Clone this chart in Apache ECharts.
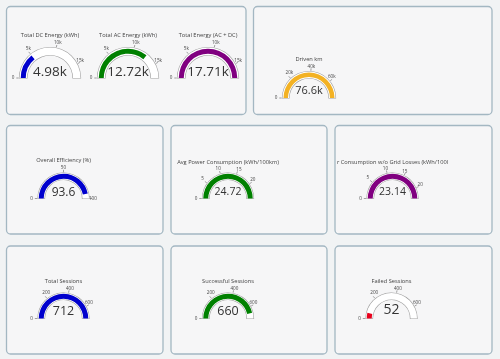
<!DOCTYPE html>
<html><head><meta charset="utf-8">
<script src="https://cdn.jsdelivr.net/npm/echarts@6/dist/echarts.min.js"></script>
<style>html,body{margin:0;padding:0;background:#f1f3f4}#c{width:500px;height:359px}</style>
</head><body><div id="c"></div>
<script>
// ---- data ----
const titles = ['Total DC Energy (kWh)', 'Total AC Energy (kWh)', 'Total Energy (AC + DC)', 'Driven km',
  'Overall Efficiency (%)', 'Avg Power Consumption (kWh/100km)', 'r Consumption w/o Grid Losses (kWh/100l',
  'Total Sessions', 'Successful Sessions', 'Failed Sessions'];
const values = [4980, 12720, 17710, 76600, 93.6, 24.72, 23.14, 712, 660, 52];
const valueLabels = ['4.98k', '12.72k', '17.71k', '76.6k', '93.6', '24.72', '23.14', '712', '660', '52'];
const axisMax = [17710, 17710, 17710, 76600, 100, 24.72, 23.14, 712, 712, 712];
const tickValues = [
  [0, 5000, 10000, 15000], [0, 5000, 10000, 15000], [0, 5000, 10000, 15000],
  [0, 20000, 40000, 60000], [0, 50, 100], [0, 5, 10, 15, 20], [0, 5, 10, 15, 20],
  [0, 200, 400, 600], [0, 200, 400, 600], [0, 200, 400, 600]];
const tickLabels = [
  ['0', '5k', '10k', '15k'], ['0', '5k', '10k', '15k'], ['0', '5k', '10k', '15k'],
  ['0', '20k', '40k', '60k'], ['0', '50', '100'], ['0', '5', '10', '15', '20'], ['0', '5', '10', '15', '20'],
  ['0', '200', '400', '600'], ['0', '200', '400', '600'], ['0', '200', '400', '600']];
const barColors = ['#0000cd', '#008000', '#800080', '#f3b224', '#0000cd', '#008000', '#800080', '#0000cd', '#008000', '#e8001c'];

// ---- layout (positions / sizes) ----
const cards = [[6.5, 6.5, 239.5, 108], [253.5, 6.5, 238.5, 108],
  [6.5, 125.5, 156.5, 108.5], [171, 125.5, 156, 108.5], [335, 125.5, 157, 108.5],
  [6.5, 246, 156.5, 108], [171, 246, 156, 108], [335, 246, 157, 108]];
const layout = [
  {cx: 50, cy: 78, r: 30.5, w: 7.5, bw: 5, vf: 13.5, vo: -6, to: -43},
  {cx: 128, cy: 78, r: 30.5, w: 7.5, bw: 5, vf: 13.5, vo: -6, to: -43},
  {cx: 208, cy: 78, r: 30.5, w: 7.5, bw: 5, vf: 13.5, vo: -6, to: -43},
  {cx: 309, cy: 98, r: 26.5, w: 6.5, bw: 4.5, vf: 11, vo: -7, to: -39},
  {cx: 63.5, cy: 198.5, r: 25.5, w: 6.5, bw: 5, vf: 12, vo: -6, to: -38},
  {cx: 228, cy: 198.5, r: 25.5, w: 6.5, bw: 5, vf: 10.5, vo: -6, to: -36.5},
  {cx: 392.5, cy: 198.5, r: 25.5, w: 6.5, bw: 5, vf: 10.5, vo: -6, to: -36},
  {cx: 63.5, cy: 318.5, r: 25.5, w: 6.5, bw: 5, vf: 12.5, vo: -7, to: -37.5},
  {cx: 228, cy: 318.5, r: 25.5, w: 6.5, bw: 5, vf: 12.5, vo: -7, to: -37.5},
  {cx: 391.5, cy: 318.5, r: 25.5, w: 6.5, bw: 5, vf: 14, vo: -8, to: -37.5}
];
const FONT = 'Open Sans';

function hidden() {
  return {
    splitLine: {show: false}, axisTick: {show: false}, axisLabel: {show: false},
    pointer: {show: false}, anchor: {show: false}, title: {show: false}, detail: {show: false}
  };
}

function gaugeSeries(i) {
  const L = layout[i];
  const center = [L.cx, L.cy];
  const ticks = tickValues[i];
  const last = ticks[ticks.length - 1];
  const pad = 0.6 / L.r * 180 / Math.PI;
  const out = [];
  // band border
  out.push(Object.assign(hidden(), {
    type: 'gauge', silent: true, z: 2, center, radius: L.r + 0.6,
    startAngle: 180 + pad, endAngle: -pad, min: 0, max: 1,
    axisLine: {show: true, lineStyle: {width: L.w + 1.2, color: [[1, '#a0a0a0']]}},
    data: [{value: 0}]
  }));
  // band fill
  out.push(Object.assign(hidden(), {
    type: 'gauge', silent: true, z: 3, center, radius: L.r,
    startAngle: 180, endAngle: 0, min: 0, max: 1,
    axisLine: {show: true, lineStyle: {width: L.w, color: [[1, '#ffffff']]}},
    data: [{value: 0}]
  }));
  // value bar + title + number
  const m = (L.w - L.bw) / 2;
  out.push(Object.assign(hidden(), {
    type: 'gauge', silent: true, z: 4, center, radius: L.r - m,
    startAngle: 180, endAngle: 0, min: 0, max: axisMax[i],
    axisLine: {show: false, lineStyle: {width: 0}},
    progress: {show: true, width: L.bw, roundCap: false, itemStyle: {color: barColors[i]}},
    title: {show: true, offsetCenter: [0, L.to], fontSize: 5.7, color: '#444', fontFamily: FONT},
    detail: {
      show: true, offsetCenter: [0, L.vo], fontSize: L.vf, lineHeight: L.vf, fontWeight: 'normal',
      color: '#333', fontFamily: FONT, padding: 0, width: 80,
      formatter: function () { return valueLabels[i]; }
    },
    data: [{value: values[i], name: titles[i]}]
  }));
  // axis ticks + labels
  out.push(Object.assign(hidden(), {
    type: 'gauge', silent: true, z: 5, center, radius: L.r + 3.2,
    startAngle: 180, endAngle: 180 - 180 * last / axisMax[i],
    min: 0, max: last, splitNumber: ticks.length - 1,
    axisLine: {show: false, lineStyle: {width: 0}},
    splitLine: {show: true, length: 2.4, distance: 0, lineStyle: {color: '#666', width: 0.6}},
    axisLabel: {
      show: true, distance: -7, fontSize: 4.6, color: '#444', fontFamily: FONT,
      formatter: function (v) {
        const k = ticks.findIndex(t => Math.abs(t - v) < 1e-6 * (last || 1));
        return k >= 0 ? tickLabels[i][k] : '';
      }
    },
    data: [{value: 0}]
  }));
  return out;
}

const series = [];
for (let i = 0; i < values.length; i++) series.push(...gaugeSeries(i));

const chart = echarts.init(document.getElementById('c'), null, {renderer: 'canvas'});
chart.setOption({
  backgroundColor: '#f1f3f4',
  animation: false,
  textStyle: {fontFamily: FONT},
  graphic: cards.map(c => ({
    type: 'rect', z: 0, silent: true,
    shape: {x: c[0], y: c[1], width: c[2], height: c[3], r: 4},
    style: {fill: '#f6f6f7', stroke: '#a3b7c2', lineWidth: 1.3}
  })),
  series
});
</script>
</body></html>
